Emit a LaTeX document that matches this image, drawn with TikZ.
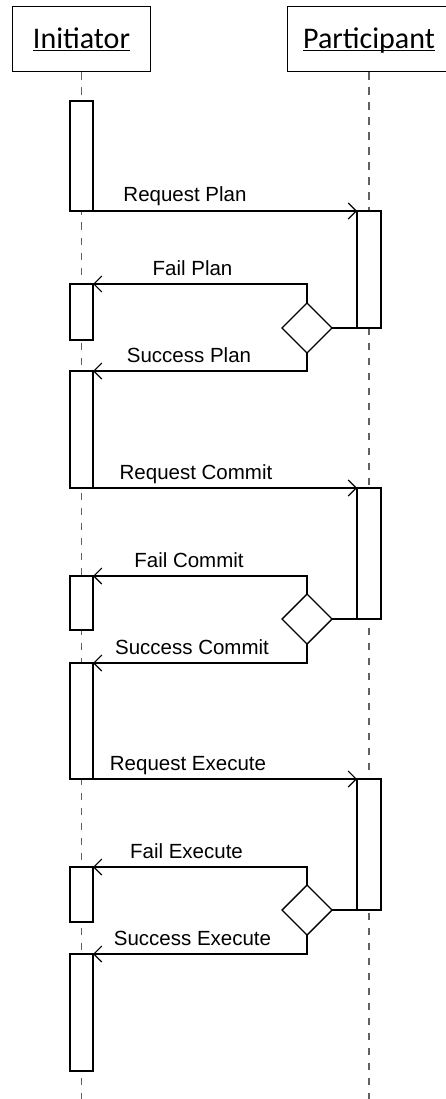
\documentclass[tikz,border=0pt]{standalone}
\usepackage{fontspec}
\setmainfont{Liberation Sans}
\newfontfamily\headfont{Carlito}
\usetikzlibrary{arrows.meta,shapes.geometric,positioning}

\begin{document}
\begin{tikzpicture}[x=1pt,y=-1pt,line width=1.2pt,
                actor/.style={draw,line width=1pt,inner sep=0pt,minimum height=65pt,text height=19pt,text depth=0pt,font=\headfont\fontsize{30}{36}\selectfont},
                act/.style={draw,fill=white,inner sep=0pt,outer sep=0pt,minimum width=23pt,anchor=north},
                choice/.style={diamond,draw,fill=white,inner sep=0pt,outer sep=0pt,minimum width=50pt,minimum height=50pt,line width=1.4pt},
                life/.style={draw=black!62,dash pattern=on 7.5pt off 7.5pt,line width=1.3pt},
                msg/.style={-{Straight Barb[length=8pt,width=16pt]},line width=1.1pt},
                lbl/.style={anchor=base,inner sep=0pt,font=\fontsize{20.5}{24}\selectfont}]
                \useasboundingbox (0,0) rectangle (445,1099);
                \node[actor,minimum width=138pt] (Init) at (81.5,39.5) {\underline{\smash{Initiator}}};
                \node[actor,minimum width=164pt] (Part) at (369,39.5) {\underline{\smash{Participant}}};
                \coordinate (Init_end) at (81.5,1099);
                \coordinate (Part_end) at (369,1099);
                \draw[life] (Init.south) -- (Init_end);
                \draw[life] (Part.south) -- (Part_end);

                \node[act,minimum height=110pt] (I_1) at (81.5,101) {};
                \node[act,minimum height=56pt]  (I_2) at (81.5,284) {};
                \node[act,minimum height=117pt] (I_3) at (81.5,371) {};
                \node[act,minimum height=54pt]  (I_4) at (81.5,576) {};
                \node[act,minimum height=116pt] (I_5) at (81.5,663) {};
                \node[act,minimum height=55pt]  (I_6) at (81.5,867) {};
                \node[act,minimum height=117pt] (I_7) at (81.5,954) {};
                \node[act,minimum width=24pt,minimum height=117pt] (P_1) at (369,211) {};
                \node[act,minimum width=24pt,minimum height=131pt] (P_2) at (369,488) {};
                \node[act,minimum width=24pt,minimum height=131pt] (P_3) at (369,779) {};
                \node[choice] (D_1) at (307,328) {};
                \node[choice] (D_2) at (307,619) {};
                \node[choice] (D_3) at (307,910) {};

                \draw[msg] (I_1.south west) -- (P_1.north west);
                \draw (D_1.east) -- (P_1.south west);
                \draw[msg] (D_1.north) |- (I_2.north east);
                \draw[msg] (D_1.south) |- (I_3.north east);
                \draw[msg] (I_3.south west) -- (P_2.north west);
                \draw (D_2.east) -- (P_2.south west);
                \draw[msg] (D_2.north) |- (I_4.north east);
                \draw[msg] (D_2.south) |- (I_5.north east);
                \draw[msg] (I_5.south west) -- (P_3.north west);
                \draw (D_3.east) -- (P_3.south west);
                \draw[msg] (D_3.north) |- (I_6.north east);
                \draw[msg] (D_3.south) |- (I_7.north east);

                \node[lbl] (L_req1) at (185,202) {Request Plan};
                \node[lbl] (L_fail1) at (192.5,275) {Fail Plan};
                \node[lbl] (L_ok1) at (189,362) {Success Plan};
                \node[lbl] (L_req2) at (196,479) {Request Commit};
                \node[lbl] (L_fail2) at (189,567) {Fail Commit};
                \node[lbl] (L_ok2) at (192,654) {Success Commit};
                \node[lbl] (L_req3) at (188,770) {Request Execute};
                \node[lbl] (L_fail3) at (186.5,858) {Fail Execute};
                \node[lbl] (L_ok3) at (192.5,945) {Success Execute};
            \end{tikzpicture}
\end{document}
